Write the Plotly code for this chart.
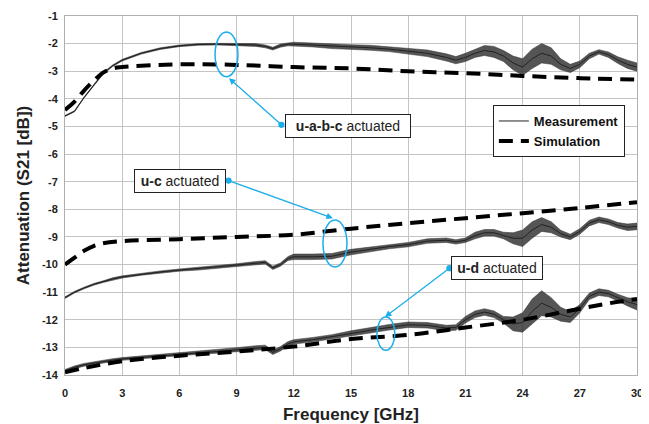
import plotly.graph_objects as go

# ---------------- data ----------------
freq_meas = [0, 0.5, 1, 1.5, 2, 2.5, 3, 4, 5, 6, 7, 8, 9, 10, 10.5, 10.9, 11.3, 11.7, 12, 13, 14, 15,
             16, 17, 18, 19, 20, 20.5, 21, 21.5, 22, 22.5, 23, 23.5, 24, 24.5, 25, 25.5, 26, 26.5,
             27, 27.5, 28, 28.5, 29, 29.5, 30]

meas_uabc = [-4.62, -4.45, -3.95, -3.5, -3.08, -2.8, -2.6, -2.35, -2.18, -2.08, -2.03, -2.02, -2.03,
             -2.05, -2.1, -2.18, -2.07, -2.02, -2.02, -2.05, -2.1, -2.12, -2.15, -2.2, -2.28, -2.35,
             -2.5, -2.6, -2.5, -2.35, -2.25, -2.3, -2.45, -2.7, -2.85, -2.55, -2.35, -2.45, -2.75,
             -2.9, -2.75, -2.45, -2.3, -2.4, -2.6, -2.75, -2.85]
ripple_uabc = [0.02, 0.02, 0.02, 0.02, 0.03, 0.03, 0.03, 0.03, 0.03, 0.03, 0.03, 0.03, 0.04,
               0.05, 0.05, 0.05, 0.06, 0.06, 0.07, 0.07, 0.08, 0.08, 0.09, 0.09, 0.1, 0.12,
               0.13, 0.13, 0.15, 0.15, 0.18, 0.2, 0.2, 0.25, 0.3, 0.35, 0.35, 0.3, 0.2,
               0.15, 0.12, 0.1, 0.08, 0.1, 0.12, 0.15, 0.15]

meas_uc = [-11.2, -11.0, -10.85, -10.72, -10.62, -10.52, -10.45, -10.35, -10.27, -10.2, -10.15, -10.08,
           -10.02, -9.95, -9.92, -10.12, -10.0, -9.78, -9.72, -9.72, -9.7, -9.55, -9.45, -9.35, -9.28,
           -9.15, -9.12, -9.18, -9.12, -8.95, -8.85, -8.85, -8.95, -9.05, -9.05, -8.75, -8.55, -8.65,
           -8.88, -9.0, -8.8, -8.5, -8.38, -8.45, -8.58, -8.65, -8.62]
ripple_uc = [0.03, 0.03, 0.03, 0.03, 0.03, 0.04, 0.04, 0.04, 0.04, 0.04, 0.05, 0.05, 0.05,
             0.06, 0.06, 0.06, 0.06, 0.07, 0.1, 0.1, 0.1, 0.1, 0.08, 0.08, 0.08, 0.08,
             0.08, 0.08, 0.08, 0.12, 0.12, 0.12, 0.12, 0.2, 0.3, 0.3, 0.25, 0.2, 0.12,
             0.1, 0.1, 0.1, 0.1, 0.1, 0.1, 0.12, 0.12]

meas_ud = [-13.85, -13.72, -13.63, -13.57, -13.51, -13.46, -13.42, -13.36, -13.3, -13.25, -13.2, -13.15,
           -13.08, -13.02, -13.0, -13.18, -13.05, -12.87, -12.8, -12.72, -12.62, -12.5, -12.38, -12.27,
           -12.18, -12.2, -12.3, -12.28, -12.0, -11.8, -11.72, -11.8, -12.0, -12.15, -12.1, -11.7,
           -11.4, -11.55, -11.8, -11.9, -11.6, -11.15, -11.0, -11.05, -11.2, -11.35, -11.45]
ripple_ud = [0.05, 0.05, 0.05, 0.05, 0.05, 0.05, 0.05, 0.05, 0.05, 0.05, 0.05, 0.06, 0.07,
             0.08, 0.08, 0.08, 0.08, 0.08, 0.08, 0.08, 0.08, 0.1, 0.1, 0.1, 0.1, 0.1,
             0.1, 0.1, 0.12, 0.12, 0.12, 0.12, 0.12, 0.25, 0.35, 0.45, 0.45, 0.35, 0.25,
             0.2, 0.15, 0.12, 0.12, 0.12, 0.12, 0.15, 0.2]

freq_sim_uabc = [0, 0.5, 1, 1.5, 2, 2.5, 3, 4, 6, 9, 12, 15, 18, 21, 24, 27, 30]
sim_uabc = [-4.4, -4.1, -3.7, -3.35, -3.05, -2.9, -2.85, -2.8, -2.75, -2.77, -2.85, -2.9, -3.0,
            -3.07, -3.17, -3.25, -3.3]

freq_sim_uc = [0, 0.5, 1, 1.5, 2, 3, 6, 9, 12, 15, 18, 21, 24, 27, 30]
sim_uc = [-10.0, -9.75, -9.5, -9.33, -9.23, -9.15, -9.08, -9.0, -8.92, -8.7, -8.5, -8.32, -8.14,
          -7.95, -7.74]

freq_sim_ud = [0, 1, 3, 6, 9, 12, 15, 18, 21, 24, 27, 29, 30]
sim_ud = [-13.9, -13.75, -13.5, -13.3, -13.15, -12.97, -12.7, -12.55, -12.28, -12.0, -11.6, -11.35,
          -11.25]

x_ticks = [0, 3, 6, 9, 12, 15, 18, 21, 24, 27, 30]
y_ticks = list(range(-14, 0))

# ---------------- figure ----------------
CYAN = "#1BAEEA"
FONT = "Liberation Sans, Arial, sans-serif"
fig = go.Figure()

for i, (vals, rip) in enumerate([(meas_uabc, ripple_uabc), (meas_uc, ripple_uc), (meas_ud, ripple_ud)]):
    upper = [v + r for v, r in zip(vals, rip)]
    lower = [v - r for v, r in zip(vals, rip)]
    fig.add_trace(go.Scatter(x=freq_meas, y=upper, mode="lines", showlegend=False,
                             line=dict(color="#333", width=0.5), hoverinfo="skip"))
    fig.add_trace(go.Scatter(x=freq_meas, y=lower, mode="lines", showlegend=False, fill="tonexty",
                             fillcolor="rgba(55,55,55,0.85)",
                             line=dict(color="#333", width=0.5), hoverinfo="skip"))
    fig.add_trace(go.Scatter(x=freq_meas, y=vals, mode="lines", name="Measurement",
                             showlegend=(i == 0),
                             line=dict(color="#222", width=1)))

for i, (fx, vals) in enumerate([(freq_sim_uabc, sim_uabc), (freq_sim_uc, sim_uc), (freq_sim_ud, sim_ud)]):
    fig.add_trace(go.Scatter(x=fx, y=vals, mode="lines", name="Simulation", line_shape="spline",
                             showlegend=(i == 0),
                             line=dict(color="black", width=4, dash="14px,8px")))

# ellipses
for (x0, x1, y0, y1) in [(7.87, 9.07, -3.2, -1.58), (13.53, 14.79, -10.09, -8.39), (16.36, 17.3, -13.1, -11.9)]:
    fig.add_shape(type="circle", xref="x", yref="y", x0=x0, x1=x1, y0=y0, y1=y1,
                  line=dict(color=CYAN, width=1.5))

# arrows (tail at label box, head near ellipse)
for (tx, ty, hx, hy) in [(11.43, -4.99, 8.6, -3.25), (8.5, -6.94, 14.05, -8.32), (20.24, -10.09, 16.78, -11.9)]:
    fig.add_annotation(x=hx, y=hy, ax=tx, ay=ty, xref="x", yref="y", axref="x", ayref="y",
                       text="", showarrow=True, arrowcolor=CYAN, arrowwidth=1.3,
                       arrowhead=2, arrowsize=1, arrowside="end+start",
                       startarrowhead=6, startarrowsize=1.2)

# label boxes
for (cx, cy, txt, w) in [(14.84, -5.0, "<b>u-a-b-c</b> actuated", 118),
                         (6.03, -6.96, "<b>u-c</b> actuated", 84),
                         (22.65, -10.11, "<b>u-d</b> actuated", 84)]:
    fig.add_annotation(x=cx, y=cy, xref="x", yref="y", text=txt, showarrow=False,
                       font=dict(family=FONT, size=14, color="#222"),
                       bgcolor="white", bordercolor="#222", borderwidth=1, borderpad=3,
                       width=w, height=16)

# the page places the figure 8px in from the top-left corner
fig.update_layout(
    width=641, height=416,
    margin=dict(l=57, r=12, t=8, b=49),
    plot_bgcolor="white", paper_bgcolor="white",
    font=dict(family=FONT, color="#222"),
    legend=dict(x=0.748, y=0.752, xanchor="left", yanchor="top", traceorder="normal",
                bgcolor="white", bordercolor="#222", borderwidth=1,
                font=dict(family=FONT, size=13, weight="bold", color="#111"),
                tracegroupgap=0, itemwidth=30),
    xaxis=dict(range=[0, 30], tickmode="array", tickvals=x_ticks, ticktext=[str(t) for t in x_ticks],
               showgrid=True, gridcolor="#c4c4c4", gridwidth=1, zeroline=False, automargin=False,
               showline=True, linecolor="#b0b0b0", mirror=True, ticks="", ticklabelstandoff=8,
               tickfont=dict(family=FONT, size=11, weight="bold", color="#222"),
               title=dict(text="Frequency [GHz]", font=dict(family=FONT, size=17, weight="bold", color="#222"),
                          standoff=11)),
    yaxis=dict(range=[-14, -1], tickmode="array", tickvals=y_ticks, ticktext=[str(t) for t in y_ticks],
               showgrid=True, gridcolor="#c4c4c4", gridwidth=1, zeroline=False, automargin=False,
               showline=True, linecolor="#b0b0b0", mirror=True, ticks="", ticklabelstandoff=4,
               tickfont=dict(family=FONT, size=11, weight="bold", color="#222"),
               title=dict(text="Attenuation (S21 [dB])", font=dict(family=FONT, size=17, weight="bold", color="#222"),
                          standoff=7)),
)

fig.write_html("out.html")
